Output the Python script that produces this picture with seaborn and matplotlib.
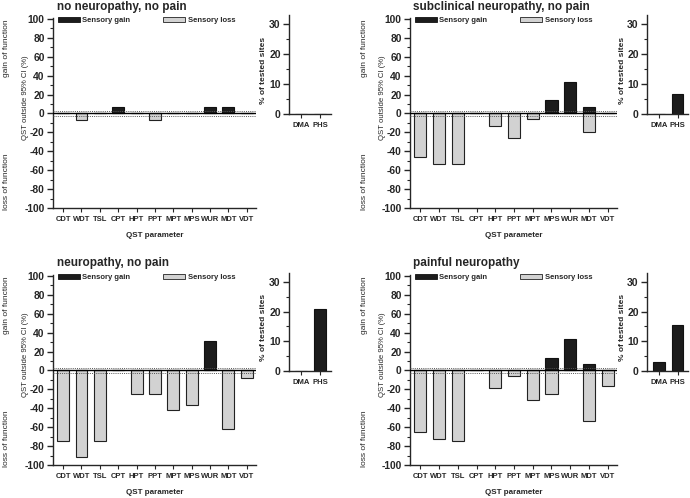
import matplotlib
matplotlib.use("Agg")
import matplotlib.pyplot as plt
import seaborn as sns
from matplotlib.patches import Patch
from matplotlib.ticker import MultipleLocator

# QST parameters and side-panel parameters
params = ["CDT", "WDT", "TSL", "CPT", "HPT", "PPT", "MPT", "MPS", "WUR", "MDT", "VDT"]
side_params = ["DMA", "PHS"]

titles = ["no neuropathy, no pain", "subclinical neuropathy, no pain",
          "neuropathy, no pain", "painful neuropathy"]

# % of QST values outside 95% CI (gain positive, loss negative)
gain_none = [0, 0, 0, 7, 0, 0, 0, 0, 7, 7, 0]
loss_none = [0, -7, 0, 0, 0, -7, 0, 0, 0, 0, 0]
side_none = [0, 0]

gain_sub = [0, 0, 0, 0, 0, 0, 0, 14, 33, 7, 0]
loss_sub = [-46, -53, -53, 0, -13, -26, -6, 0, 0, -20, 0]
side_sub = [0, 6.7]

gain_neu = [0, 0, 0, 0, 0, 0, 0, 0, 31, 0, 0]
loss_neu = [-75, -92, -75, 0, -25, -25, -42, -37, 0, -62, -8]
side_neu = [0, 20.8]

gain_pain = [0, 0, 0, 0, 0, 0, 0, 13, 33, 7, 0]
loss_pain = [-65, -72, -75, 0, -19, -6, -31, -25, 0, -53, -16]
side_pain = [3.0, 15.5]

GAIN_C = "#1c1c1c"
LOSS_C = "#d2d2d2"

sns.set_style("ticks")
plt.rcParams['font.family'] = ['Liberation Sans', 'DejaVu Sans']
plt.rcParams['axes.linewidth'] = 1.0
plt.rcParams['axes.unicode_minus'] = False

W, H = 690, 498
fig = plt.figure(figsize=(W / 100, H / 100), dpi=100)


def box(l, t, r, b):
    return [l / W, 1 - b / H, (r - l) / W, (b - t) / H]


cols = [dict(ml=53, mr=256, sl=289, sr=331, tx=57),
        dict(ml=410, mr=617, sl=647, sr=688, tx=413)]
rows = [dict(mt=18, mb=208, st=15, sb=114, ty=7),
        dict(mt=275, mb=465, st=273, sb=371, ty=263)]

panels = [(gain_none, loss_none, side_none), (gain_sub, loss_sub, side_sub),
          (gain_neu, loss_neu, side_neu), (gain_pain, loss_pain, side_pain)]

for i, (gain, loss, side) in enumerate(panels):
    c = cols[i % 2]
    r = rows[i // 2]

    ax = fig.add_axes(box(c["ml"], r["mt"], c["mr"], r["mb"]))
    sns.barplot(x=params, y=loss, color=LOSS_C, edgecolor="#222222",
                linewidth=0.8, width=0.65, saturation=1, ax=ax)
    sns.barplot(x=params, y=gain, color=GAIN_C, edgecolor="#111111",
                linewidth=0.8, width=0.65, saturation=1, ax=ax)
    ax.axhline(0, color="black", lw=1.0, zorder=3)
    for v in (2.5, -2.5):
        ax.axhline(v, color="#555555", lw=0.7, ls=(0, (1, 1.2)), zorder=3)
    ax.set_xlim(-0.55, 10.5)
    ax.set_ylim(-100, 101)
    ax.yaxis.set_major_locator(MultipleLocator(20))
    ax.yaxis.set_minor_locator(MultipleLocator(10))
    ax.tick_params(axis="y", which="major", length=4, width=1, labelsize=7.4, pad=2)
    ax.tick_params(axis="y", which="minor", length=2.5, width=0.8)
    ax.tick_params(axis="x", length=3, width=0.8, labelsize=5.5, pad=3)
    for lab in ax.get_yticklabels() + ax.get_xticklabels():
        lab.set_fontweight("bold")
    sns.despine(ax=ax)
    ax.set_xlabel("QST parameter", fontsize=5.8, fontweight="bold", labelpad=6)
    ax.set_ylabel("QST outside 95% CI (%)", fontsize=5.6)
    # place the label a fixed number of pixels left of the spine
    ax.yaxis.set_label_coords(-24 / (c["mr"] - c["ml"]), 0.58)

    handles = [Patch(facecolor=GAIN_C, edgecolor="#111111", lw=0.6),
               Patch(facecolor=LOSS_C, edgecolor="#222222", lw=0.6)]
    ax.legend(handles, ["Sensory gain", "Sensory loss"], loc="upper left",
              bbox_to_anchor=(0.02, 1.01), ncol=2, frameon=False,
              handlelength=2.9, handleheight=0.65, handletextpad=0.3,
              columnspacing=4.3, borderaxespad=0, borderpad=0.1,
              prop=dict(size=5.5, weight="bold"))

    # gain / loss side labels
    fig.text((c["ml"] - 46) / W, 1 - (r["mt"] + 30) / H, "gain of function",
             rotation=90, ha="center", va="center", fontsize=6)
    fig.text((c["ml"] - 46) / W, 1 - (r["mt"] + 164) / H, "loss of function",
             rotation=90, ha="center", va="center", fontsize=6)

    fig.text(c["tx"] / W, 1 - r["ty"] / H, titles[i], ha="left", va="center",
             fontsize=8.5, fontweight="bold")

    sx = fig.add_axes(box(c["sl"], r["st"], c["sr"], r["sb"]))
    sns.barplot(x=side_params, y=side, color=GAIN_C, edgecolor="#111111",
                linewidth=0.8, width=0.62, saturation=1, ax=sx)
    sx.set_xlim(-0.62, 1.55)
    sx.set_ylim(0, 33)
    sx.yaxis.set_major_locator(MultipleLocator(10))
    sx.yaxis.set_minor_locator(MultipleLocator(5))
    sx.tick_params(axis="y", which="major", length=4, width=1, labelsize=7.5, pad=2)
    sx.tick_params(axis="y", which="minor", length=2.5, width=0.8)
    sx.tick_params(axis="x", length=3, width=0.8, labelsize=5.5, pad=3)
    for lab in sx.get_yticklabels() + sx.get_xticklabels():
        lab.set_fontweight("bold")
    sns.despine(ax=sx)
    sx.set_xlabel("")
    sx.set_ylabel("% of tested sites", fontsize=6, fontweight="bold")
    sx.yaxis.set_label_coords(-0.52, 0.44)

fig.savefig("out.png", dpi=100)
